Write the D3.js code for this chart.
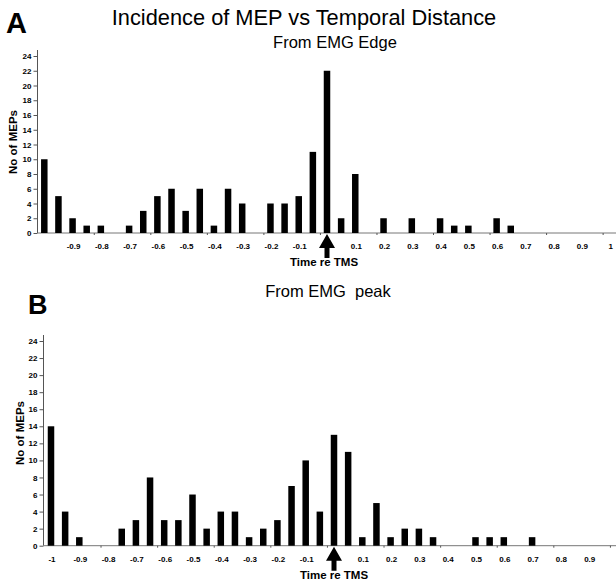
<!DOCTYPE html>
<html>
<head>
<meta charset="utf-8">
<script src="https://cdn.jsdelivr.net/npm/d3@7"></script>
<style>
  body { margin: 0; background: #fff; }
  text { font-family: "Liberation Sans", Arial, sans-serif; }
</style>
</head>
<body>
<div id="chart"></div>
<script>
// panel A: from EMG edge
const timesA = [-1, -0.95, -0.9, -0.85, -0.8, -0.75, -0.7, -0.65, -0.6, -0.55, -0.5, -0.45, -0.4, -0.35, -0.3, -0.25, -0.2, -0.15, -0.1, -0.05,
    0, 0.05, 0.1, 0.15, 0.2, 0.25, 0.3, 0.35, 0.4, 0.45, 0.5, 0.55, 0.6, 0.65];
const countsA = [10, 5, 2, 1, 1, 0, 1, 3, 5, 6, 3, 6, 1, 6, 4, 0, 4, 4, 5, 11,
    22, 2, 8, 0, 2, 0, 2, 0, 2, 1, 1, 0, 2, 1];
const xLabelsA = [-0.9, -0.8, -0.7, -0.6, -0.5, -0.4, -0.3, -0.2, -0.1, 0.1, 0.2, 0.3, 0.4, 0.5, 0.6, 0.7, 0.8, 0.9, 1];

// panel B: from EMG peak
const timesB = [-1, -0.95, -0.9, -0.85, -0.8, -0.75, -0.7, -0.65, -0.6, -0.55, -0.5, -0.45, -0.4, -0.35, -0.3, -0.25, -0.2, -0.15, -0.1, -0.05,
    0, 0.05, 0.1, 0.15, 0.2, 0.25, 0.3, 0.35, 0.4, 0.45, 0.5, 0.55, 0.6, 0.65, 0.7];
const countsB = [14, 4, 1, 0, 0, 2, 3, 8, 3, 3, 6, 2, 4, 4, 1, 2, 3, 7, 10, 4,
    13, 11, 1, 5, 1, 2, 2, 1, 0, 0, 1, 1, 1, 0, 1];
const xLabelsB = [-1, -0.9, -0.8, -0.7, -0.6, -0.5, -0.4, -0.3, -0.2, -0.1, 0.1, 0.2, 0.3, 0.4, 0.5, 0.6, 0.7, 0.8, 0.9];

const minorTicks = [-0.825, -0.625, -0.425, -0.225, -0.025, 0.175, 0.375, 0.575, 0.775, 0.975];
const yTicks = [0, 2, 4, 6, 8, 10, 12, 14, 16, 18, 20, 22, 24];

const width = 616, height = 581;

const svg = d3.select("#chart").append("svg")
    .attr("width", width)
    .attr("height", height);

function drawPanel(p) {
    let x = d3.scaleLinear().domain([-1, 1]).range([p.x0, p.x0 + 2 * p.unit]);
    let y = d3.scaleLinear().domain([0, 24]).range([p.y0, p.y24]);

    let g = svg.append("g");

    // y axis
    let yAxis = g.append("g")
        .attr("transform", `translate(${p.axisX},0)`)
        .call(d3.axisLeft(y).tickValues(yTicks).tickSize(4).tickSizeOuter(0).tickPadding(2));
    yAxis.select(".domain").attr("stroke", "#555").attr("d", `M0,${p.y0}V${p.y24 - 6}`);
    yAxis.selectAll(".tick line").attr("stroke", "#555");
    yAxis.selectAll("text").attr("font-size", 8).attr("font-weight", "bold")
        .attr("font-family", "Liberation Sans, Arial, sans-serif");

    // x axis line with minor ticks
    let xAxis = g.append("g")
        .attr("transform", `translate(0,${p.y0})`)
        .call(d3.axisBottom(x).tickValues(minorTicks).tickSize(2).tickFormat(""));
    xAxis.select(".domain").attr("stroke", "#777").attr("d", `M${p.axisX},0H${width}`);
    xAxis.selectAll(".tick line").attr("stroke", "#555");

    // x labels
    g.selectAll(".xlab")
        .data(p.labels)
        .enter().append("text")
        .attr("class", "xlab")
        .attr("x", d => x(d) + 1)
        .attr("y", p.y0 + 16)
        .attr("text-anchor", "middle")
        .attr("font-size", 8)
        .attr("font-weight", "bold")
        .text(d => d);

    // bars
    g.selectAll(".bar")
        .data(p.times.map((t, i) => ({ t: t, n: p.counts[i] })))
        .enter().append("rect")
        .attr("class", "bar")
        .attr("fill", "#000")
        .attr("x", d => x(d.t) - p.barW / 2)
        .attr("y", d => y(d.n))
        .attr("width", p.barW)
        .attr("height", d => p.y0 - y(d.n));

    // arrow at TMS
    let ax = x(0);
    g.append("path")
        .attr("fill", "#000")
        .attr("d", `M${ax},${p.y0 + 1} L${ax + 8},${p.y0 + 15} L${ax + 2.5},${p.y0 + 15}
            L${ax + 2.5},${p.y0 + 25} L${ax - 2.5},${p.y0 + 25} L${ax - 2.5},${p.y0 + 15} L${ax - 8},${p.y0 + 15} Z`);

    // axis titles
    g.append("text")
        .attr("x", p.xTitleX)
        .attr("y", p.y0 + 33)
        .attr("text-anchor", "middle")
        .attr("font-size", 11.5)
        .attr("font-weight", "bold")
        .text("Time re TMS");

    g.append("text")
        .attr("transform", `translate(${p.yTitleX},${p.yTitleY}) rotate(-90)`)
        .attr("text-anchor", "middle")
        .attr("font-size", 11.5)
        .attr("font-weight", "bold")
        .text("No of MEPs");

    // panel letter and subtitle
    g.append("text")
        .attr("x", p.letterX)
        .attr("y", p.letterY)
        .attr("font-size", p.letterSize)
        .attr("font-weight", "bold")
        .text(p.letter);

    g.append("text")
        .attr("x", p.subX)
        .attr("y", p.subY)
        .attr("text-anchor", "middle")
        .attr("font-size", 16.5)
        .style("white-space", "pre")
        .text(p.subtitle);
}

drawPanel({
    times: timesA, counts: countsA, labels: xLabelsA,
    x0: 44.3, unit: 282.7, y0: 233, y24: 56, axisX: 37.5, barW: 6.5,
    xTitleX: 324, yTitleX: 17, yTitleY: 142,
    letter: "A", letterX: 6, letterY: 33, letterSize: 29,
    subtitle: "From EMG Edge", subX: 335, subY: 48
});

drawPanel({
    times: timesB, counts: countsB, labels: xLabelsB,
    x0: 51, unit: 283, y0: 545.7, y24: 341, axisX: 43.5, barW: 6.5,
    xTitleX: 334, yTitleX: 24, yTitleY: 433,
    letter: "B", letterX: 28, letterY: 314, letterSize: 27,
    subtitle: "From EMG  peak", subX: 328, subY: 297
});

svg.append("text")
    .attr("x", 304)
    .attr("y", 25)
    .attr("text-anchor", "middle")
    .attr("font-size", 21.8)
    .text("Incidence of MEP vs Temporal Distance");
</script>
</body>
</html>
